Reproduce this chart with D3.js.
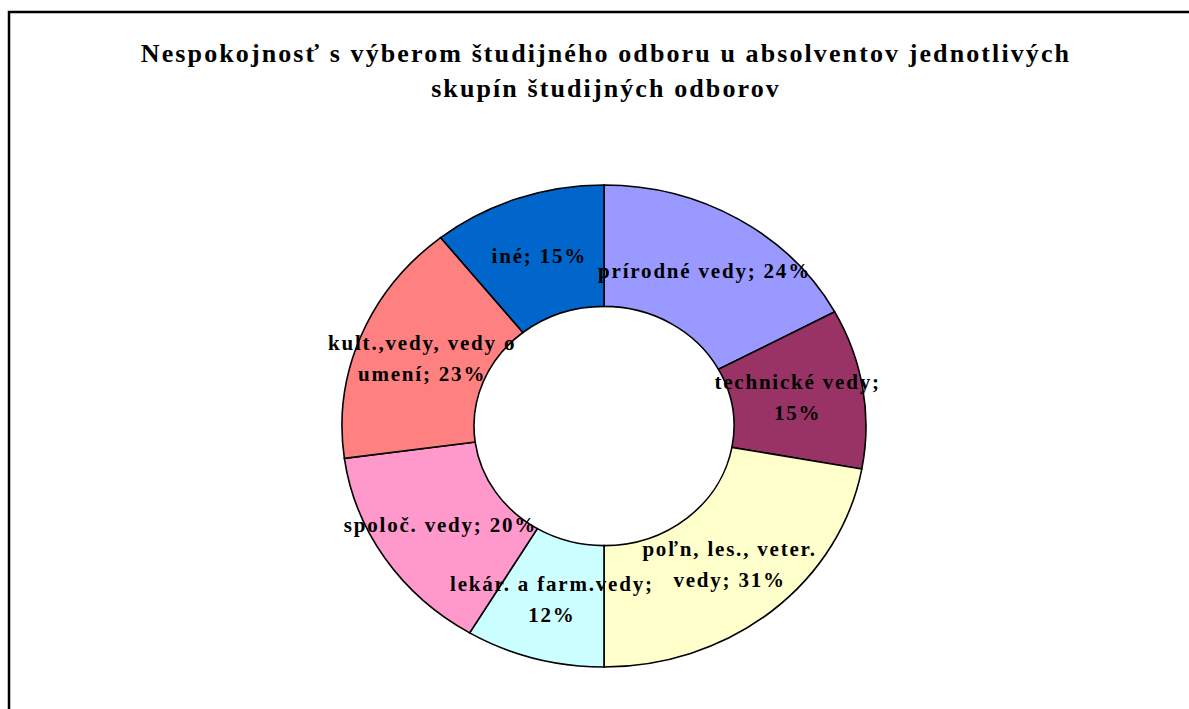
<!DOCTYPE html>
<html>
<head>
<meta charset="utf-8">
<script src="https://cdn.jsdelivr.net/npm/d3@7"></script>
<style>
  html, body { margin: 0; padding: 0; background: #fff; }
  svg { display: block; }
</style>
</head>
<body>
<svg id="chart" width="1189" height="709"></svg>
<script>
// Groups of study fields, clockwise from 12 o'clock
const categories = [
  "prírodné vedy",
  "technické vedy",
  "poľn, les., veter. vedy",
  "lekár. a farm.vedy",
  "spoloč. vedy",
  "kult.,vedy, vedy o umení",
  "iné"
];
// Share of dissatisfied graduates (%)
const values = [24, 15, 31, 12, 20, 23, 15];
const colors = ["#9999FF", "#993366", "#FFFFCC", "#CCFFFF", "#FF99CC", "#FF8080", "#0066CC"];
// Number of words on the first label line (0 = single line)
const labelBreaks = [0, 2, 3, 3, 0, 3, 0];
const titleLines = [
  "Nespokojnosť s výberom študijného odboru u absolventov jednotlivých",
  "skupín študijných odborov"
];

const svg = d3.select("#chart");
const serif = "'Liberation Serif', 'Times New Roman', serif";

// Outer frame
svg.append("rect")
  .attr("x", 9).attr("y", 12)
  .attr("width", 1400).attr("height", 900)
  .attr("fill", "none").attr("stroke", "#000").attr("stroke-width", 2.5);

// Title
svg.append("g").selectAll("text")
  .data(titleLines)
  .join("text")
  .attr("x", 606)
  .attr("y", (d, i) => 62 + i * 35)
  .attr("text-anchor", "middle")
  .attr("font-family", serif)
  .attr("font-weight", "bold")
  .attr("font-size", 26)
  .attr("letter-spacing", 2.1)
  .text(d => d);

// Donut (slightly flattened vertically)
const cx = 604, cy = 426;
const rOuter = 262, rInner = 130;
const sy = 241 / 262;

const pie = d3.pie().sort(null).value(d => d)(values);
const arc = d3.arc().innerRadius(rInner).outerRadius(rOuter);

const g = svg.append("g").attr("transform", `translate(${cx},${cy})`);
g.append("g").attr("transform", `scale(1,${sy})`)
  .selectAll("path")
  .data(pie)
  .join("path")
  .attr("d", arc)
  .attr("fill", (d, i) => colors[i])
  .attr("stroke", "#000")
  .attr("stroke-width", 1.6)
  .attr("vector-effect", "non-scaling-stroke");

// Data labels at slice centroids
const lineH = 31;
pie.forEach((d, i) => {
  const [x, y0] = arc.centroid(d);
  const y = y0 * sy;
  const words = (categories[i] + "; " + values[i] + "%").split(" ");
  const lines = labelBreaks[i] > 0
    ? [words.slice(0, labelBreaks[i]).join(" "), words.slice(labelBreaks[i]).join(" ")]
    : [words.join(" ")];
  const t = g.append("text")
    .attr("text-anchor", "middle")
    .attr("font-family", serif)
    .attr("font-weight", "bold")
    .attr("font-size", 21)
    .attr("letter-spacing", 1.8);
  lines.forEach((ln, k) => {
    t.append("tspan")
      .attr("x", x)
      .attr("y", y + 7 + (k - (lines.length - 1) / 2) * lineH)
      .text(ln);
  });
});
</script>
</body>
</html>
